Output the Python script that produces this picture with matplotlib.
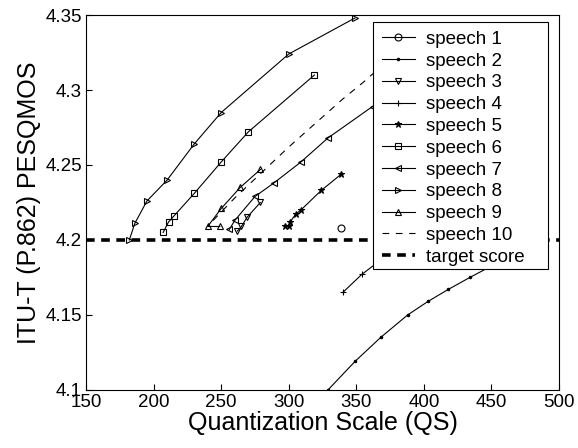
import matplotlib
matplotlib.use('Agg')
import matplotlib.pyplot as plt
from matplotlib.patches import Rectangle

# 每條語音的 (QS, PESQMOS) 讀值
s1_qs = [339]
s1_mos = [4.208]
s2_qs = [329, 349, 368, 388, 403, 418, 434, 455]
s2_mos = [4.100, 4.119, 4.135, 4.150, 4.159, 4.167, 4.175, 4.185]
s3_qs = [262, 265, 269, 279]
s3_mos = [4.206, 4.209, 4.215, 4.225]
s4_qs = [340, 354, 370]
s4_mos = [4.165, 4.177, 4.188]
s5_qs = [297, 300, 301, 305, 309, 324, 339]
s5_mos = [4.209, 4.209, 4.212, 4.217, 4.220, 4.233, 4.244]
s6_qs = [207, 211, 215, 230, 250, 270, 319]
s6_mos = [4.205, 4.212, 4.216, 4.231, 4.252, 4.272, 4.310]
s7_qs = [256, 260, 275, 289, 309, 329, 362, 385]
s7_mos = [4.207, 4.213, 4.229, 4.238, 4.252, 4.268, 4.289, 4.305]
s8_qs = [182, 186, 195, 210, 230, 250, 300, 349]
s8_mos = [4.200, 4.211, 4.226, 4.240, 4.264, 4.285, 4.324, 4.348]
s9_qs = [249, 240, 250, 264, 279]
s9_mos = [4.209, 4.209, 4.221, 4.235, 4.247]
s10_qs = [244, 260, 280, 300, 320, 340, 355, 380]
s10_mos = [4.213, 4.228, 4.245, 4.262, 4.278, 4.294, 4.305, 4.325]
target = 4.2

series = [
    ('speech 1', s1_qs, s1_mos, 'o', '-'),
    ('speech 2', s2_qs, s2_mos, '.', '-'),
    ('speech 3', s3_qs, s3_mos, 'v', '-'),
    ('speech 4', s4_qs, s4_mos, '+', '-'),
    ('speech 5', s5_qs, s5_mos, '*', '-'),
    ('speech 6', s6_qs, s6_mos, 's', '-'),
    ('speech 7', s7_qs, s7_mos, '<', '-'),
    ('speech 8', s8_qs, s8_mos, '>', '-'),
    ('speech 9', s9_qs, s9_mos, '^', '-'),
    ('speech 10', s10_qs, s10_mos, None, (0, (6, 6))),
]

plt.rcParams['font.family'] = ['Liberation Sans', 'DejaVu Sans']

fig = plt.figure(figsize=(5.78, 4.48), dpi=100)
ax = fig.add_axes([0.149, 0.1295, 0.818, 0.837])

for name, qs, mos, mk, ls in series:
    fill = 'k' if mk in ('.', '*') else 'none'
    ms = 3.5 if mk == '.' else 5
    ax.plot(qs, mos, color='k', linestyle=ls, linewidth=0.8, marker=mk,
            markersize=ms, markerfacecolor=fill, markeredgecolor='k',
            markeredgewidth=0.8, label=name)

ax.plot([150, 500], [target, target], color='k', linestyle=(0, (2.4, 1.8)),
        linewidth=2.6, label='target score')

ax.set_xlim(150, 500)
ax.set_ylim(4.1, 4.35)
ax.set_xticks([150, 200, 250, 300, 350, 400, 450, 500])
ax.set_yticks([4.1, 4.15, 4.2, 4.25, 4.3, 4.35])
ax.set_yticklabels(['4.1', '4.15', '4.2', '4.25', '4.3', '4.35'])
ax.tick_params(direction='in', labelsize=13.5, length=4, pad=3)
ax.set_xlabel('Quantization Scale (QS)', fontsize=18, labelpad=0)
ax.set_ylabel('ITU-T (P.862) PESQMOS', fontsize=18, labelpad=3)

# MATLAB 式圖例框：右側留白較多，所以框另外畫
box = Rectangle((0.607, 0.3227), 0.370, 0.6583, transform=ax.transAxes,
                facecolor='white', edgecolor='k', linewidth=0.8, zorder=4.5)
ax.add_patch(box)
leg = ax.legend(loc='upper left', bbox_to_anchor=(0.607, 0.981), fontsize=13.5,
                frameon=False, handlelength=1.8, labelspacing=0.25,
                borderpad=0.45, handletextpad=0.55, borderaxespad=0)
leg.set_zorder(5)

fig.savefig('out.png', dpi=100)
